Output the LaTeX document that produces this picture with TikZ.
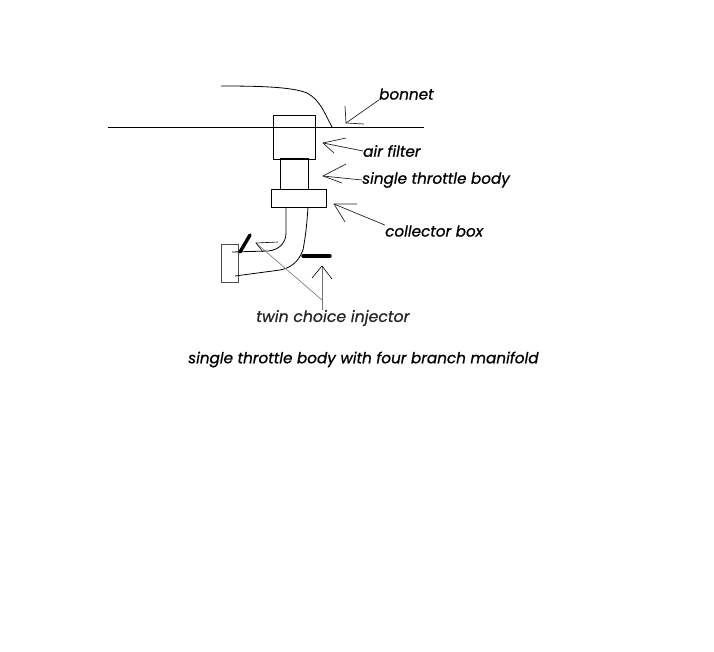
\documentclass[tikz,border=0pt]{standalone}
\usepackage{fontspec}
\setmainfont{Poppins}[ItalicFeatures={FakeBold=0.8}]
\usetikzlibrary{positioning}
\tikzset{
  label text/.style={font=\fontsize{15.2}{17}\selectfont\itshape, inner sep=0pt, anchor=west},
  part line/.style={line width=0.8pt, black},
  pointer/.style={line width=0.7pt, black!85},
  grey pointer/.style={line width=0.6pt, black!55},
  injector/.style={line width=3.4pt, line cap=round, black}
}
\begin{document}
\begin{tikzpicture}[x=1pt, y=-1pt]
  \useasboundingbox (0,0) rectangle (714,651);
  % bonnet and bulkhead line
  \coordinate (linel) at (108,127);
  \coordinate (liner) at (424,127);
  \draw[part line] (linel) -- (liner);
  \draw[part line] (221,86) .. controls (262,86) and (292,87) .. (307,93)
    .. controls (320,100) and (324,112) .. (332,127);
  % boxes
  \node[draw, part line, minimum width=42pt, minimum height=44pt, inner sep=0pt] (filter) at (294,137) {};
  \node[draw, part line, minimum width=28pt, minimum height=31pt, inner sep=0pt] (throttle) at (294,173.5) {};
  \node[draw, part line, minimum width=55pt, minimum height=18pt, inner sep=0pt] (collector) at (298.5,198) {};
  \node[draw, part line, black!70, minimum width=17pt, minimum height=38pt, inner sep=0pt] (flange) at (229.5,263) {};
  % manifold pipe
  \draw[part line] (286,207) -- (286,233) .. controls (286,243) and (279,250) .. (268,251) -- (232,252);
  \draw[part line] (308,207) .. controls (307,222) and (306,234) .. (303,250)
    .. controls (298,263) and (290,268) .. (280,270) -- (235,276);
  % injectors
  \coordinate (injatop) at (250,235);
  \coordinate (injabot) at (240,252);
  \coordinate (injbl) at (303,256);
  \coordinate (injbr) at (330,256);
  \draw[injector] (injabot) -- (injatop);
  \draw[injector] (injbl) -- (injbr);
  % labels
  \node[label text] (bonnet) at (379,94) {bonnet};
  \node[label text] (airfilter) at (363,151) {air filter};
  \node[label text] (body) at (362,180) {single throttle body};
  \node[label text] (box) at (385,231) {collector box};
  \node[label text, black!85, font=\fontsize{15.7}{17}\selectfont\itshape] (twin) at (256,318) {twin choice injector};
  \node[label text] (caption) at (188,359.5) {single throttle body with four branch manifold};
  % pointers
  \foreach \name/\x/\y/\ax/\ay/\bx/\by in {bonnet.south west/346/123/345/106/364/124,
      airfilter.west/323/143/346/138/334/153,
      body.west/323/176/346/164/342/183,
      box.north west/334/204/357/204/345/222}
  {
    \coordinate (tip) at (\x,\y);
    \draw[pointer] (\name) -- (tip);
    \draw[pointer] (\ax,\ay) -- (tip) -- (\bx,\by);
  }
  % twin injector pointers
  \coordinate (fork) at (322,300);
  \coordinate (tipa) at (256,243);
  \coordinate (tipb) at (322,266);
  \draw[grey pointer] (fork) -- (tipa);
  \draw[grey pointer] (twin.north -| tipb) -- (tipb);
  \draw[grey pointer, black] (278,242) -- (tipa) -- (263,252);
  \draw[grey pointer, black] (312,278) -- (tipb) -- (332,279);
\end{tikzpicture}
\end{document}
